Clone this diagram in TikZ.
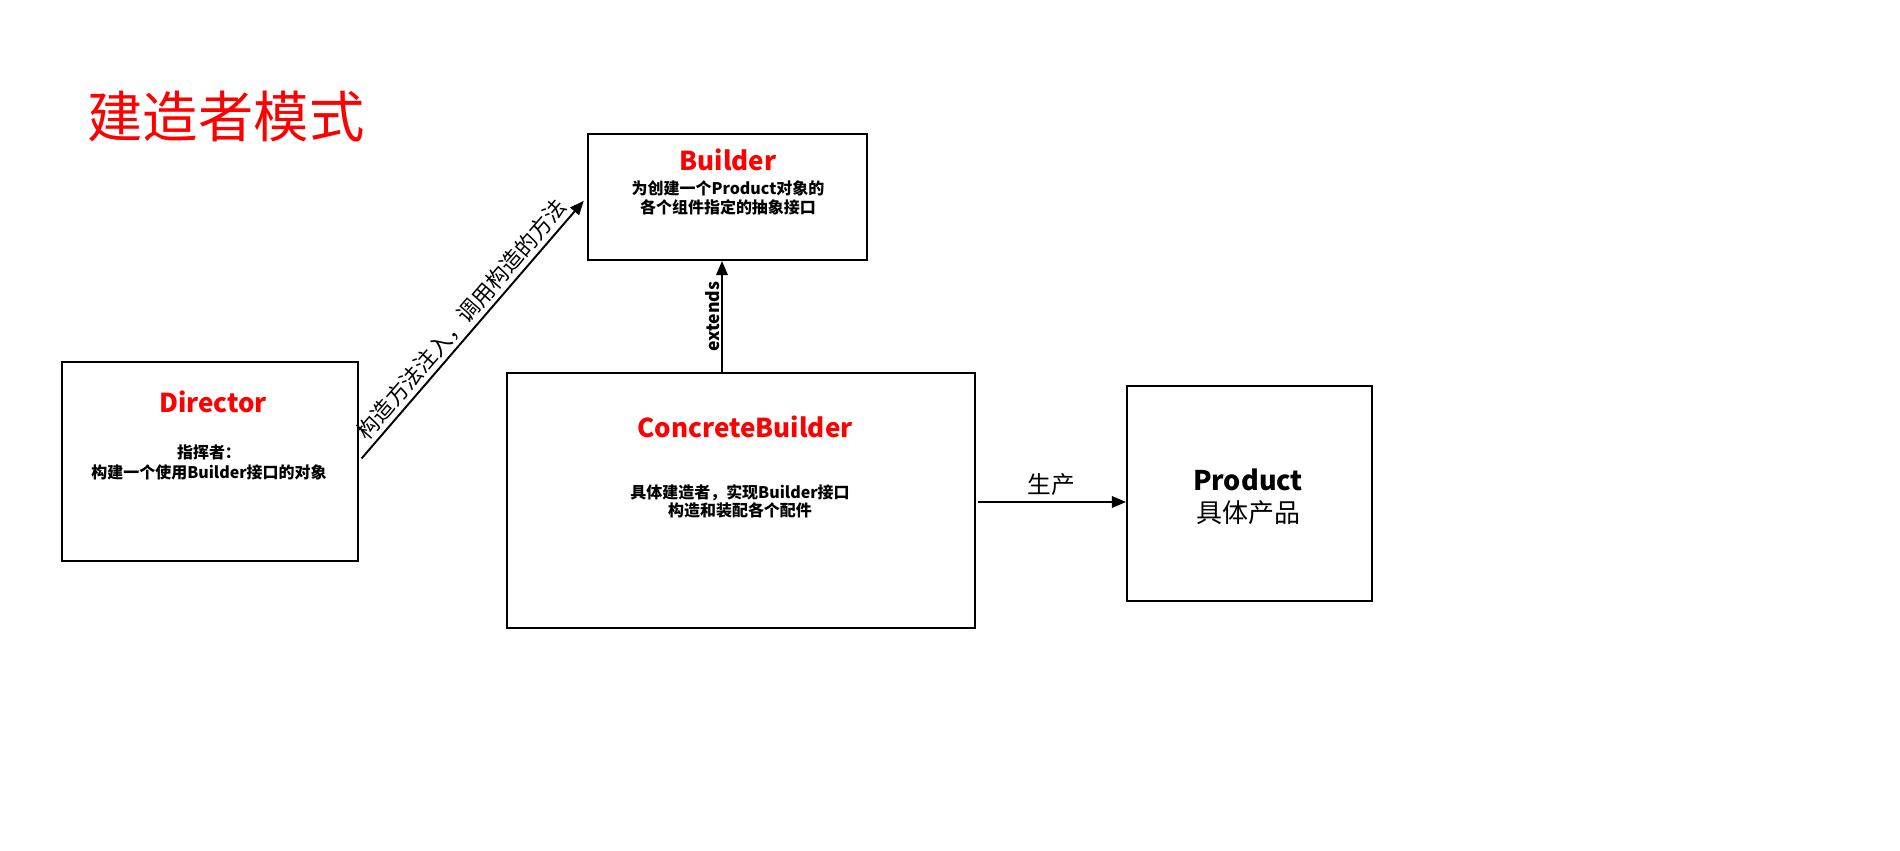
\documentclass[tikz,border=0pt]{standalone}
\usepackage{fontspec}
\setmainfont{Noto Sans CJK SC}
\definecolor{BRed}{HTML}{FF0000}
\usetikzlibrary{arrows.meta,positioning}

\begin{document}
\begin{tikzpicture}[
    box/.style={draw=black,line width=1.1pt,inner sep=0pt},
    head/.style={text=BRed,font=\fontsize{14.8}{17}\selectfont\bfseries},
    note/.style={font=\fontsize{9.1}{10.8}\selectfont\bfseries,align=center},
    link/.style={line width=1.1pt,-{Triangle[length=8pt,width=6.5pt]}},
    tag/.style={font=\fontsize{12.5}{15}\selectfont}
  ]
  \useasboundingbox (0,0) rectangle (38,-17);
  \node[text=BRed,font=\fontsize{31.5}{34}\selectfont] (title) at (4.52,-2.34) {建造者模式};

  % the four boxes
  \node[box,minimum width=5.58cm,minimum height=2.52cm] (bld) at (14.55,-3.94) {};
  \node[box,minimum width=5.92cm,minimum height=3.98cm] (dir) at (4.20,-9.23) {};
  \node[box,minimum width=9.36cm,minimum height=5.10cm] (cb) at (14.82,-10.01) {};
  \node[box,minimum width=4.90cm,minimum height=4.30cm] (prod) at (24.99,-9.87) {};

  \node[head] (bldName) at (14.56,-3.20) {Builder};
  \node[note] (bldNote) at (14.56,-3.95) {为创建一个Product对象的\\各个组件指定的抽象接口};
  \node[head] (dirName) at (4.26,-8.04) {Director};
  \node[note,font=\fontsize{9.1}{11.4}\selectfont\bfseries] (dirNote) at (4.18,-9.24) {指挥者：\\构建一个使用Builder接口的对象};
  \node[head] (cbName) at (14.90,-8.54) {ConcreteBuilder};
  \node[note,font=\fontsize{9.1}{10.2}\selectfont\bfseries] (cbNote) at (14.80,-10.02) {具体建造者，实现Builder接口\\构造和装配各个配件};
  \node[font=\fontsize{15.4}{18}\selectfont\bfseries] (prodName) at (24.96,-9.60) {Product};
  \node[font=\fontsize{14.8}{18}\selectfont] (prodNote) at (24.96,-10.26) {具体产品};

  % connectors
  \draw[link,shorten <=0.08cm,shorten >=0.1cm] (dir.east) -- (bld.west)
    node[midway,above,sloped,tag,inner sep=2pt] {构造方法注入，调用构造的方法};
  \draw[link] ([xshift=-0.38cm]cb.north) -- ([xshift=-0.38cm]cb.north |- bld.south)
    node[midway,above,sloped,inner sep=1pt,font=\fontsize{10}{12}\selectfont\bfseries] {extends};
  \draw[link,shorten <=0.04cm] ([yshift=-0.03cm]cb.east) -- ([yshift=-0.03cm]cb.east -| prod.west)
    node[midway,above,tag,font=\fontsize{13.5}{16}\selectfont] {生产};
\end{tikzpicture}
\end{document}
